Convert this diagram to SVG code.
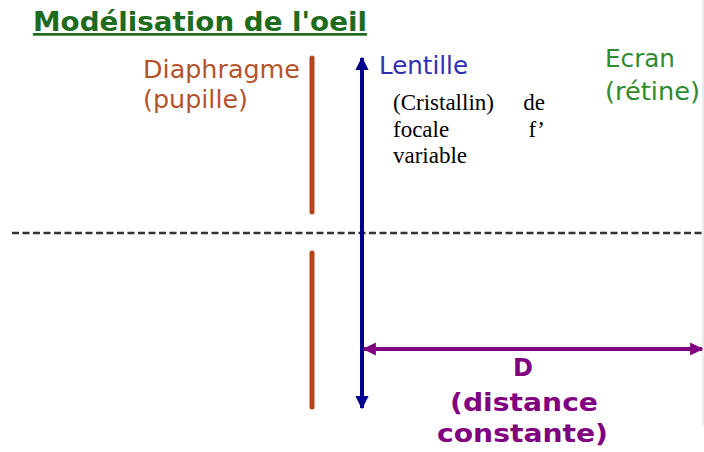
<svg xmlns="http://www.w3.org/2000/svg" width="704" height="452" viewBox="0 0 704 452">
<style>
.sans{font-family:"DejaVu Sans",Verdana,sans-serif}
.serif{font-family:"Liberation Serif","Times New Roman",serif;font-size:23px;fill:#000}
</style>
<defs>
<marker id="hb" viewBox="0 0 10 10" refX="9" refY="5" markerWidth="3.3" markerHeight="3.3" orient="auto-start-reverse" markerUnits="strokeWidth"><path d="M0,0L10,5L0,10z" fill="#00008b"/></marker>
<marker id="hp" viewBox="0 0 10 10" refX="9" refY="5" markerWidth="3.3" markerHeight="3.3" orient="auto-start-reverse" markerUnits="strokeWidth"><path d="M0,0L10,5L0,10z" fill="#800080"/></marker>
</defs>
<rect width="704" height="452" fill="#fff"/>
<line x1="703" y1="0" x2="703" y2="425" stroke="#d8d8d8" stroke-width="1"/>
<g id="title">
<text x="33" y="31" class="sans" font-size="27" font-weight="bold" fill="#1d6b1d" text-decoration="underline" textLength="334" lengthAdjust="spacingAndGlyphs">Modélisation de l'oeil</text>
</g>
<g id="axis">
<line x1="12" y1="233" x2="704" y2="233" stroke="#333" stroke-width="2.5" stroke-dasharray="7 3.5"/>
</g>
<g id="diaphragme">
<line x1="312" y1="58" x2="312" y2="212" stroke="#b5441a" stroke-width="5" stroke-linecap="round"/>
<line x1="312" y1="253" x2="312" y2="407" stroke="#b5441a" stroke-width="5" stroke-linecap="round"/>
<text x="143" y="78" class="sans" font-size="24" fill="#b5522a" textLength="157" lengthAdjust="spacingAndGlyphs">Diaphragme</text>
<text x="143" y="108" class="sans" font-size="24" fill="#b5522a" textLength="105" lengthAdjust="spacingAndGlyphs">(pupille)</text>
</g>
<g id="lentille">
<text x="379" y="74" class="sans" font-size="24" fill="#3030b0" textLength="89" lengthAdjust="spacingAndGlyphs">Lentille</text>
<text class="serif"><tspan x="393" y="110">(Cristallin)</tspan><tspan x="545" y="110" text-anchor="end">de</tspan><tspan x="393" y="137">focale</tspan><tspan x="545" y="137" text-anchor="end">f’</tspan><tspan x="393" y="163">variable</tspan></text>
</g>
<g id="ecran">
<text x="605" y="67" class="sans" font-size="24" fill="#2e8b2e" textLength="70" lengthAdjust="spacingAndGlyphs">Ecran</text>
<text x="605" y="100" class="sans" font-size="24" fill="#2e8b2e" textLength="95" lengthAdjust="spacingAndGlyphs">(rétine)</text>
</g>
<g id="distance">
<text x="513" y="376" class="sans" font-size="25" font-weight="bold" fill="#800080" textLength="20" lengthAdjust="spacingAndGlyphs">D</text>
<text x="450" y="411" class="sans" font-size="25" font-weight="bold" fill="#800080" textLength="148" lengthAdjust="spacingAndGlyphs">(distance</text>
<text x="437" y="442" class="sans" font-size="25" font-weight="bold" fill="#800080" textLength="171" lengthAdjust="spacingAndGlyphs">constante)</text>
</g>
<g id="connectors">
<line x1="362" y1="408" x2="362" y2="58" stroke="#00008b" stroke-width="4" marker-start="url(#hb)" marker-end="url(#hb)"/>
<line x1="364" y1="349" x2="702" y2="349" stroke="#800080" stroke-width="4" marker-start="url(#hp)" marker-end="url(#hp)"/>
</g>
</svg>
